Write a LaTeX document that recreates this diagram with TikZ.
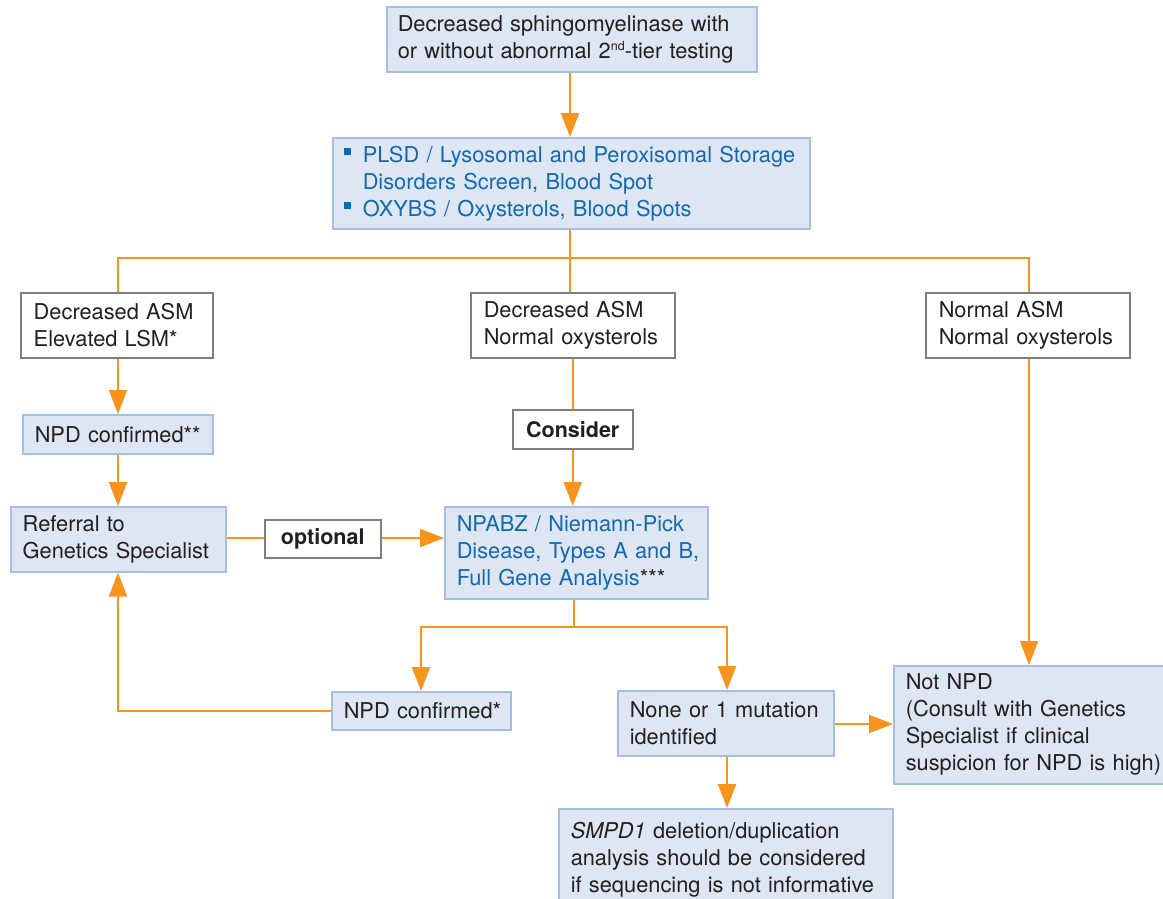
\documentclass[tikz,border=0pt]{standalone}
\usepackage{fontspec}
\setmainfont{TeX Gyre Heros}
\usetikzlibrary{arrows.meta,calc}
\definecolor{org}{HTML}{F7941D}
\definecolor{bfill}{HTML}{DEE5F3}
\definecolor{bline}{HTML}{A4BEE4}
\definecolor{gline}{HTML}{7F7F7F}
\definecolor{txt}{HTML}{231F20}
\definecolor{btxt}{HTML}{1269B0}
\newcommand\blt{\makebox[19pt][l]{\textcolor{btxt}{\rule[7pt]{7pt}{7pt}}}}
\newcommand\hb[1]{\mbox{#1}}
\newcommand\supnd{\raisebox{8pt}{\fontsize{12.5}{12.5}\selectfont nd}}
\begin{document}
\begin{tikzpicture}[x=1pt,y=-1pt, font=\fontsize{21.8}{27}\selectfont, text=txt,
 bluebox/.style={draw=bline, fill=bfill, line width=1.5pt, anchor=north west, align=left, inner xsep=12pt, inner ysep=0pt},
 graybox/.style={draw=gline, fill=white, line width=1.5pt, anchor=north west, align=left, inner xsep=13pt, inner ysep=0pt},
 conn/.style={draw=org, line width=2pt},
 arr/.style={conn, -{Triangle[width=18pt,length=24pt]}}]
\useasboundingbox (0,0) rectangle (1163,898);

\node[bluebox, inner xsep=11pt, text width=348pt, minimum height=65pt] (top) at (386,6)
  {\hb{Decreased sphingomyelinase with}\\\hb{or without abnormal 2\supnd-tier testing}};
\node[bluebox, inner xsep=11pt, text width=455pt, minimum height=91pt, text=btxt] (scr) at (332,137)
  {\hb{\blt PLSD / Lysosomal and Peroxisomal Storage}\\\hb{\hspace*{19pt}Disorders Screen, Blood Spot}\\\hb{\blt OXYBS / Oxysterols, Blood Spots}};

\node[graybox, text width=166pt, minimum height=65pt] (lb) at (20,292) {\hb{Decreased ASM}\\\hb{Elevated LSM*}};
\node[graybox, text width=178pt, minimum height=65pt] (mid) at (470,292) {\hb{Decreased ASM}\\\hb{Normal oxysterols}};
\node[graybox, text width=178pt, minimum height=65pt] (rb) at (925,292) {\hb{Normal ASM}\\\hb{Normal oxysterols}};

\node[bluebox, text width=166pt, minimum height=39pt] (npdb) at (22,414) {\hb{NPD confirmed**}};
\node[graybox, align=center, inner xsep=12pt, text width=96pt, minimum height=39pt, font=\fontsize{21.5}{27}\selectfont\bfseries] (con) at (512,409) {\hb{Consider}};

\node[bluebox, text width=191pt, minimum height=65pt] (ref) at (10,506) {\hb{Referral to}\\\hb{Genetics Specialist}};
\node[graybox, align=center, inner xsep=12pt, text width=92pt, minimum height=38pt, font=\fontsize{21.5}{27}\selectfont\bfseries] (opt) at (264,519) {\hb{optional}};
\node[bluebox, text width=239pt, minimum height=92pt, text=btxt] (npabz) at (444,506)
  {\hb{NPABZ / Niemann-Pick}\\\hb{Disease, Types A and B,}\\\hb{Full Gene Analysis\textcolor{txt}{***}}};

\node[bluebox, text width=155pt, minimum height=38pt] (npda) at (331,691) {\hb{NPD confirmed*}};
\node[bluebox, text width=192pt, minimum height=65pt] (none) at (617,690) {\hb{None or 1 mutation}\\\hb{identified}};
\node[bluebox, text width=258pt, minimum height=118pt] (not) at (893,665)
  {\hb{Not NPD}\\\hb{(Consult with Genetics}\\\hb{Specialist if clinical}\\\hb{suspicion for NPD is high)}};
\node[bluebox, text width=310pt, minimum height=102pt] (smpd) at (558,808)
  {\hb{\textit{SMPD1} deletion/duplication}\\\hb{analysis should be considered}\\\hb{if sequencing is not informative}};

\coordinate (br) at (570,258);
\coordinate (sp) at (574,627);

\draw[arr] (top.south -| br) -- (scr.north -| br);
\draw[conn] (scr.south -| br) -- (mid.north -| br);
\draw[conn] (118,292) -- (118,258) -- (1029,258) -- (1029,292);
\draw[arr] (lb.south -| 118,0) -- (npdb.north -| 118,0);
\draw[arr] (npdb.south -| 118,0) -- (ref.north -| 118,0);
\draw[conn] (mid.south -| con.north) -- (con.north);
\draw[arr] (con.south) -- (con.south |- npabz.north);
\draw[conn] (ref.east |- 0,538) -- (opt.west |- 0,538);
\draw[arr] (opt.east |- 0,538) -- (npabz.west |- 0,538);
\draw[conn] (npabz.south -| sp) -- (sp);
\draw[arr] (sp) -| (npda.north -| 421,0);
\draw[arr] (sp) -| (none.north -| 727,0);
\draw[arr] (npda.west |- 0,711) -| (ref.south -| 118,0);
\draw[arr] (none.east |- 0,724) -- (not.west |- 0,724);
\draw[arr] (none.south -| 727,0) -- (smpd.north -| 727,0);
\draw[arr] (rb.south -| 1029,0) -- (not.north -| 1029,0);
\end{tikzpicture}
\end{document}
